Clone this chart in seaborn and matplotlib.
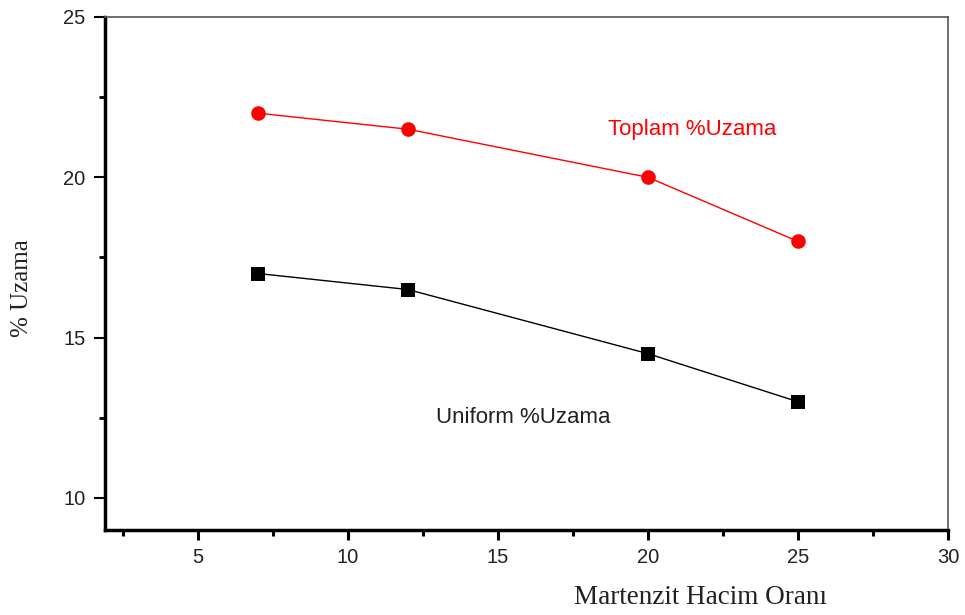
import matplotlib
matplotlib.use("Agg")
import matplotlib.pyplot as plt
import seaborn as sns
import pandas as pd
from matplotlib.ticker import MultipleLocator

martenzit = [7, 12, 20, 25]
toplam = [22.0, 21.5, 20.0, 18.0]
uniform = [17.0, 16.5, 14.5, 13.0]

sns.set_theme(style="ticks")
plt.rcParams['font.family'] = ['Liberation Sans', 'DejaVu Sans']

df = pd.DataFrame({
    "x": martenzit * 2,
    "y": toplam + uniform,
    "s": ["Toplam %Uzama"] * 4 + ["Uniform %Uzama"] * 4,
})

fig = plt.figure(figsize=(9.65, 6.15), dpi=100)
ax = fig.add_axes([105/965, 1-530/615, (948-105)/965, (530-17)/615])

sns.lineplot(data=df, x="x", y="y", hue="s", style="s",
             palette={"Toplam %Uzama": "#ff0000", "Uniform %Uzama": "#000000"},
             markers={"Toplam %Uzama": "o", "Uniform %Uzama": "s"},
             dashes=False, markersize=10.5, markeredgewidth=0, linewidth=1,
             ax=ax, legend=False)

ax.set_xlim(1.9, 30)
ax.set_ylim(9.0, 25)
ax.xaxis.set_minor_locator(MultipleLocator(2.5))
ax.yaxis.set_minor_locator(MultipleLocator(2.5))
ax.set_yticks([10, 15, 20, 25])
ax.set_xticks([5, 10, 15, 20, 25, 30])
ax.tick_params(axis='both', which='major', direction='out', length=7, width=2.2,
               labelsize=14.5, color='black', labelcolor='#222222', pad=6)
ax.tick_params(axis='both', which='minor', direction='out', length=4, width=2.2, color='black')
ax.tick_params(axis='y', which='major', length=8, width=1.5)
ax.tick_params(axis='y', which='minor', length=4, width=2)

for side in ['left', 'bottom']:
    ax.spines[side].set_linewidth(2.5)
    ax.spines[side].set_color('black')
for side in ['top', 'right']:
    ax.spines[side].set_visible(True)
    ax.spines[side].set_linewidth(1.2)
    ax.spines[side].set_color('#555555')

ax.set_xlabel("")
ax.set_ylabel("")

fig.text(700/965, 1-598/615, "Martenzit Hacim Oranı", ha='center', va='center',
         fontsize=19.5, family=['Liberation Serif', 'DejaVu Serif'], color='#222222')
fig.text(22/965, 1-288/615, "% Uzama", ha='center', va='center', rotation=90,
         fontsize=18, family=['Liberation Serif', 'DejaVu Serif'], color='#222222')

ax.text(18.67, 21.48, "Toplam %Uzama", color='#ff0000', fontsize=16, ha='left', va='center')
ax.text(12.93, 12.5, "Uniform %Uzama", color='#222222', fontsize=16, ha='left', va='center')

fig.savefig("out.png", dpi=100)
